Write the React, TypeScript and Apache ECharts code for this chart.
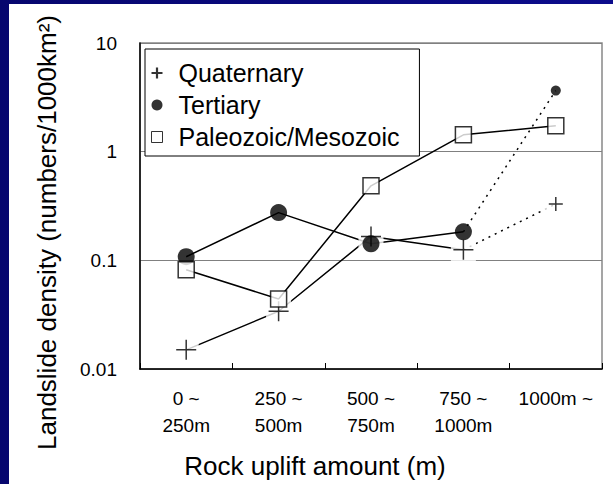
import React, { useEffect, useRef } from 'react';
import * as echarts from 'echarts';

const categories = ['0 ~\n250m', '250 ~\n500m', '500 ~\n750m', '750 ~\n1000m', '1000m ~'];
const quaternary = [0.015, 0.034, 0.166, 0.125, 0.33];
const tertiary = [0.108, 0.275, 0.142, 0.183, 3.65];
const paleoMeso = [0.082, 0.044, 0.485, 1.43, 1.73];
const yTickLabels = ['0.01', '0.1', '1', '10'];
const seriesNames = ['Quaternary', 'Tertiary', 'Paleozoic/Mesozoic'];
const dottedFrom = 3;

const FONT = 'Liberation Sans, Arial, sans-serif';

const solidPart = (arr: number[], upto: number) => arr.map((v, i) => (i <= upto ? v : '-'));
const dottedPart = (arr: number[], from: number) => arr.map((v, i) => (i >= from ? v : '-'));

export default function App() {
  const ref = useRef<HTMLDivElement>(null);
  useEffect(() => {
    if (!ref.current) return;
    const chart = echarts.init(ref.current, undefined, { renderer: 'svg' });
    const solidLine = { color: '#000', width: 1.5, type: 'solid' };
    const dotLine = { color: '#000', width: 1.5, type: [2, 5] };
    const lineBase = { type: 'line', symbol: 'none', z: 2, silent: true };
    chart.setOption({
      animation: false,
      backgroundColor: 'transparent',
      graphic: [
        { type: 'rect', z: -10, shape: { x: 9, y: 4, width: 604, height: 480 }, style: { fill: '#fff' } },
      ],
      grid: { left: 140, right: 11, top: 43, bottom: 114, show: true, borderColor: '#888', borderWidth: 1.5 },
      legend: {
        orient: 'vertical',
        left: 145,
        top: 49,
        z: 10,
        selectedMode: false,
        data: [
          { name: seriesNames[0], icon: 'path://M4,0h2v4h4v2h-4v4h-2v-4h-4v-2h4z', itemStyle: { color: '#000', borderWidth: 0 } },
          { name: seriesNames[1], icon: 'circle', itemStyle: { color: '#000', borderWidth: 0 } },
          { name: seriesNames[2], icon: 'rect', itemStyle: { color: '#fff', borderColor: '#000', borderWidth: 1 } },
        ],
        backgroundColor: '#fff',
        borderColor: '#000',
        borderWidth: 1,
        padding: [8, 20, 3, 6],
        itemGap: 0,
        itemWidth: 11,
        itemHeight: 11,
        textStyle: { fontSize: 25, lineHeight: 32, color: '#000', fontFamily: FONT, padding: [0, 0, 0, 11] },
      },
      xAxis: {
        type: 'category',
        data: categories,
        boundaryGap: true,
        name: 'Rock uplift amount (m)',
        nameLocation: 'middle',
        nameGap: 84,
        nameTextStyle: { fontSize: 26, color: '#000', fontFamily: FONT, padding: [0, 112, 0, 0] },
        axisLine: { lineStyle: { color: '#000', width: 1.5 } },
        axisTick: { show: true, inside: true, length: 6, lineStyle: { color: '#000', width: 1 } },
        axisLabel: { fontSize: 19, lineHeight: 27, color: '#000', fontFamily: FONT, margin: 16, interval: 0 },
        splitLine: { show: false },
      },
      yAxis: {
        type: 'log',
        logBase: 10,
        min: 0.01,
        max: 10,
        name: 'Landslide density (numbers/1000km\u00b2)',
        nameLocation: 'middle',
        nameGap: 80,
        nameTextStyle: { fontSize: 26, color: '#000', fontFamily: FONT, padding: [0, 53, 0, 0] },
        axisLine: { show: true, lineStyle: { color: '#000', width: 1.5 } },
        axisTick: { show: false },
        axisLabel: {
          fontSize: 19,
          color: '#000',
          fontFamily: FONT,
          margin: 23,
          formatter: (v: number) => yTickLabels[Math.round(Math.log10(v)) + 2],
        },
        splitLine: { show: true, lineStyle: { color: '#808080', width: 1 } },
      },
      series: [
        { ...lineBase, name: 'q-solid', data: solidPart(quaternary, dottedFrom), lineStyle: solidLine },
        { ...lineBase, name: 'q-dotted', data: dottedPart(quaternary, dottedFrom), lineStyle: dotLine },
        { ...lineBase, name: 't-solid', data: solidPart(tertiary, dottedFrom), lineStyle: solidLine },
        { ...lineBase, name: 't-dotted', data: dottedPart(tertiary, dottedFrom), lineStyle: dotLine },
        { ...lineBase, name: 'p-solid', data: paleoMeso, lineStyle: solidLine },
        {
          type: 'scatter',
          name: 'q-mask',
          silent: true,
          z: 3,
          data: quaternary,
          symbol: 'rect',
          symbolSize: [25, 23],
          itemStyle: { color: '#fff', borderWidth: 0 },
        },
        {
          type: 'scatter',
          name: seriesNames[0],
          z: 4,
          data: quaternary,
          symbol: 'path://M0,10L20,10M10,0L10,20',
          symbolSize: (_v: any, p: any) => (p.dataIndex === 4 ? 14 : 20),
          itemStyle: { color: 'rgba(0,0,0,0)', borderColor: '#000', borderWidth: 1.5 },
        },
        {
          type: 'scatter',
          name: seriesNames[1],
          z: 5,
          data: tertiary,
          symbol: 'circle',
          symbolSize: (_v: any, p: any) => (p.dataIndex === 4 ? 10 : 17),
          itemStyle: { color: '#000' },
        },
        {
          type: 'scatter',
          name: seriesNames[2],
          z: 6,
          data: paleoMeso,
          symbol: 'rect',
          symbolSize: 16,
          itemStyle: { color: '#fff', borderColor: '#000', borderWidth: 1.5 },
        },
      ],
    });
    return () => chart.dispose();
  }, []);
  return (
    <div
      style={{
        position: 'absolute',
        left: 0,
        top: 0,
        width: 613,
        height: 484,
        background: 'linear-gradient(90deg, #06066e, #0c0c8c)',
      }}
    >
      <div ref={ref} style={{ width: 613, height: 484 }} />
    </div>
  );
}
